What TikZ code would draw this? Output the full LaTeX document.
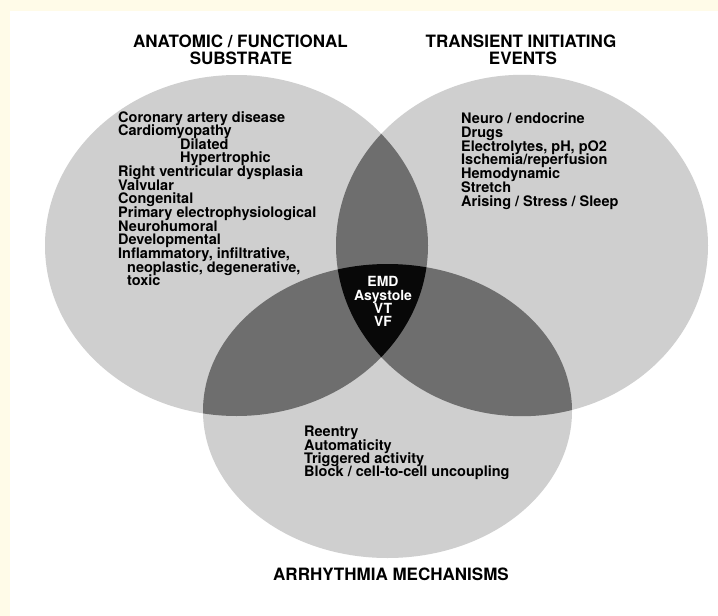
\documentclass[tikz,border=0pt]{standalone}
\usepackage{fontspec}
\setmainfont{TeX Gyre Heros}
\definecolor{paper}{RGB}{255,251,232}
\definecolor{setgrey}{RGB}{207,207,207}
\definecolor{lensgrey}{RGB}{110,110,110}
\definecolor{coregrey}{RGB}{8,8,8}
\tikzset{
  heading/.style={font=\fontsize{17}{17}\selectfont\bfseries, anchor=base, inner sep=0pt},
  item/.style={font=\fontsize{14.5}{14}\selectfont\bfseries, anchor=base west, inner sep=0pt},
  coreitem/.style={font=\fontsize{14}{14}\selectfont\bfseries, anchor=base, inner sep=0pt, text=white}
}
% the three sets
\def\substrateset{(236.5,245.5) ellipse [x radius=191.5, y radius=170.5]}
\def\eventset{(522,245.5) ellipse [x radius=186, y radius=170.7]}
\def\mechset{(387.5,411) ellipse [x radius=184.5, y radius=147]}

\begin{document}
\begin{tikzpicture}[x=1pt,y=-1pt]
% Frame
\fill[paper] (0,0) rectangle (718,616);
\fill[white] (10,11) rectangle (718,616);
\useasboundingbox (0,0) rectangle (718,616);

% Sets
\fill[setgrey] \substrateset;
\fill[setgrey] \eventset;
\fill[setgrey] \mechset;

% Overlaps of two
\begin{scope}
  \clip \substrateset;
  \fill[lensgrey] \eventset;
  \fill[lensgrey] \mechset;
\end{scope}
\begin{scope}
  \clip \eventset;
  \fill[lensgrey] \mechset;
\end{scope}

% Overlap of all three
\begin{scope}
  \clip \substrateset;
  \clip \eventset;
  \fill[coregrey] \mechset;
\end{scope}

% Titles
\node[heading] (substrate) at (240.5,47) {ANATOMIC / FUNCTIONAL};
\node[heading] (substrate2) at (241,64) {SUBSTRATE};
\node[heading] (events) at (521,47) {TRANSIENT INITIATING};
\node[heading] (events2) at (523,64) {EVENTS};
\node[heading] (mechanisms) at (391,580) {ARRHYTHMIA MECHANISMS};

% Substrate list
\foreach \t [count=\i from 0] in {Coronary artery disease, Cardiomyopathy,
    \hspace*{62pt}Dilated, \hspace*{62pt}Hypertrophic, Right ventricular dysplasia,
    Valvular, Congenital, Primary electrophysiological, Neurohumoral, Developmental,
    {Inflammatory, infiltrative,}, {\hspace*{9pt}neoplastic, degenerative,}, \hspace*{9pt}toxic} {
    \node[item] (sub\i) at (118,{122+13.65*\i}) {\t};
}

% Event list
\foreach \t [count=\i from 0] in {Neuro / endocrine, Drugs, {Electrolytes, pH, pO2},
    Ischemia/reperfusion, Hemodynamic, Stretch, Arising / Stress / Sleep} {
    \node[item] (evt\i) at (461,{123.5+13.75*\i}) {\t};
}

% Mechanism list
\foreach \t [count=\i from 0] in {Reentry, Automaticity, Triggered activity,
    Block / cell-to-cell uncoupling} {
    \node[item] (mech\i) at (304,{436.7+13.33*\i}) {\t};
}

% Centre
\foreach \t [count=\i from 0] in {EMD, Asystole, VT, VF} {
    \node[coreitem] (core\i) at (383,{286.7+13.3*\i}) {\t};
}
\end{tikzpicture}
\end{document}
